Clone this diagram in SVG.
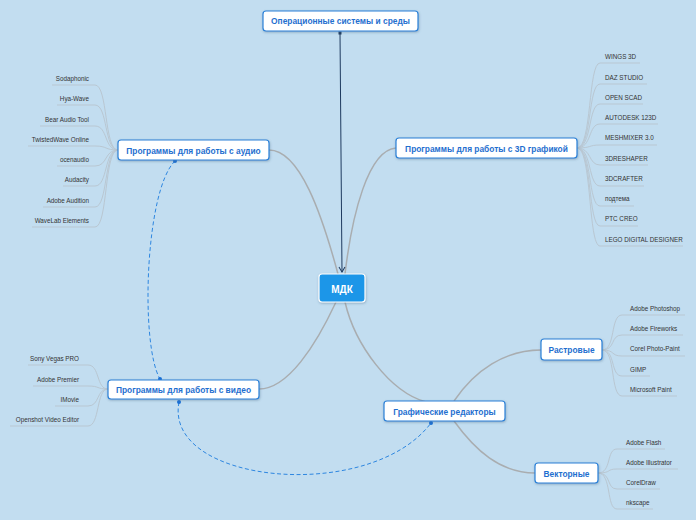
<svg xmlns="http://www.w3.org/2000/svg" width="696" height="520" viewBox="0 0 696 520">
<defs>
<style>
.node rect{fill:#fff;stroke:#2a80d8;stroke-width:1.2}
.node text{font-family:"Liberation Sans",Arial,sans-serif;font-weight:bold;font-size:8.4px;fill:#1f6fcf;text-anchor:middle;dominant-baseline:central}
.leaf text{font-family:"Liberation Sans",Arial,sans-serif;font-size:6.3px;fill:#333}
.leaf path{fill:none;stroke:#b9c7d2;stroke-width:1}
.br{fill:none;stroke:#a9adb0;stroke-width:1.5}
.dash{fill:none;stroke:#2d86e0;stroke-width:1;stroke-dasharray:4 2.5}
.dot{fill:#1a6fd6}
</style>
<filter id="sh" x="-10%" y="-30%" width="120%" height="160%"><feDropShadow dx="0.5" dy="1" stdDeviation="0.8" flood-color="#4a6a8a" flood-opacity="0.45"/></filter>
<marker id="arr" markerWidth="8" markerHeight="8" refX="6" refY="4" orient="auto" markerUnits="userSpaceOnUse"><path d="M1,1 L6,4 L1,7" fill="none" stroke="#1e3a5f" stroke-width="1"/></marker>
</defs>
<rect width="696" height="520" fill="#c2ddf0"/>

<g id="connectors">
<path class="br" d="M269,150 C300,150 322,215 338,274"/>
<path class="br" d="M396,148 C368,150 352,215 345,274"/>
<path class="br" d="M259,389 C288,389 316,345 336,302"/>
<path class="br" d="M345,302 C355,345 390,392 426,402"/>
<path class="br" d="M454,401 C475,370 505,350 541,350"/>
<path class="br" d="M454,421 C475,450 500,473 535,473"/>
<path d="M340,33 L342,272" fill="none" stroke="#1e3a5f" stroke-width="1" marker-end="url(#arr)"/>
<rect x="338.5" y="31.5" width="3" height="3" fill="#1e3a5f"/>
<path class="dash" d="M175,161 C145,190 140,345 160,379"/>
<circle class="dot" cx="175" cy="161" r="2"/>
<circle class="dot" cx="160" cy="379" r="2"/>
<path class="dash" d="M179,402 C163,484 370,504 431,423"/>
<circle class="dot" cx="179" cy="402" r="2"/>
<circle class="dot" cx="431" cy="423" r="2"/>
</g>

<g id="leaves-audio" class="leaf">
<path d="M52,85 H95 C108,85 104,150 118,150"/>
<path d="M57,105 H95 C108,105 104,150 118,150"/>
<path d="M40,126 H95 C108,126 104,150 118,150"/>
<path d="M28,146 H95 C108,146 104,150 118,150"/>
<path d="M57,166 H95 C108,166 104,150 118,150"/>
<path d="M63,186 H95 C108,186 104,150 118,150"/>
<path d="M43,207 H95 C108,207 104,150 118,150"/>
<path d="M32,227 H95 C108,227 104,150 118,150"/>
<g text-anchor="end">
<text x="89" y="81">Sodaphonic</text>
<text x="89" y="101">Hya-Wave</text>
<text x="89" y="122">Bear Audio Tool</text>
<text x="89" y="142">TwistedWave Online</text>
<text x="89" y="162">ocenaudio</text>
<text x="89" y="182">Audacity</text>
<text x="89" y="203">Adobe Audition</text>
<text x="89" y="223">WaveLab Elements</text>
</g>
</g>

<g id="leaves-3d" class="leaf">
<path d="M577,148 C592,148 588,63 600,63 H640"/>
<path d="M577,148 C592,148 588,84 600,84 H647"/>
<path d="M577,148 C592,148 588,104 600,104 H643"/>
<path d="M577,148 C592,148 588,124 600,124 H658"/>
<path d="M577,148 C592,148 588,145 600,145 H657"/>
<path d="M577,148 C592,148 588,165 600,165 H648"/>
<path d="M577,148 C592,148 588,186 600,186 H644"/>
<path d="M577,148 C592,148 588,206 600,206 H634"/>
<path d="M577,148 C592,148 588,226 600,226 H638"/>
<path d="M577,148 C592,148 588,246 600,246 H683"/>
<text x="605" y="59">WINGS 3D</text>
<text x="605" y="80">DAZ STUDIO</text>
<text x="605" y="100">OPEN SCAD</text>
<text x="605" y="120">AUTODESK 123D</text>
<text x="605" y="140">MESHMIXER 3.0</text>
<text x="605" y="161">3DRESHAPER</text>
<text x="605" y="181">3DCRAFTER</text>
<text x="605" y="201">подтема</text>
<text x="605" y="221">PTC CREO</text>
<text x="605" y="242">LEGO DIGITAL DESIGNER</text>
</g>

<g id="leaves-video" class="leaf">
<path d="M28,365 H88 C100,365 96,389 108,389"/>
<path d="M33,386 H88 C100,386 96,389 108,389"/>
<path d="M55,406 H88 C100,406 96,389 108,389"/>
<path d="M10,426 H88 C100,426 96,389 108,389"/>
<g text-anchor="end">
<text x="79" y="361">Sony Vegas PRO</text>
<text x="79" y="382">Adobe Premier</text>
<text x="79" y="402">IMovie</text>
<text x="79" y="422">Openshot Video Editor</text>
</g>
</g>

<g id="leaves-raster" class="leaf">
<path d="M602,350 C616,350 610,315 622,315 H685"/>
<path d="M602,350 C616,350 610,335 622,335 H683"/>
<path d="M602,350 C616,350 610,356 622,356 H685"/>
<path d="M602,350 C616,350 610,376 622,376 H650"/>
<path d="M602,350 C616,350 610,396 622,396 H677"/>
<text x="630" y="311">Adobe Photoshop</text>
<text x="630" y="331">Adobe Fireworks</text>
<text x="630" y="351">Corel Photo-Paint</text>
<text x="630" y="372">GIMP</text>
<text x="630" y="392">Microsoft Paint</text>
</g>

<g id="leaves-vector" class="leaf">
<path d="M598,473 C612,473 606,449 617,449 H665"/>
<path d="M598,473 C612,473 606,469 617,469 H678"/>
<path d="M598,473 C612,473 606,489 617,489 H660"/>
<path d="M598,473 C612,473 606,509 617,509 H653"/>
<text x="626" y="445">Adobe Flash</text>
<text x="626" y="465">Adobe Illustrator</text>
<text x="626" y="485">CorelDraw</text>
<text x="626" y="505">nkscape</text>
</g>

<g id="node-os" class="node"><rect x="263" y="11" width="155" height="20" rx="3" filter="url(#sh)"/><text x="340.5" y="21">Операционные системы и среды</text></g>
<g id="node-audio" class="node"><rect x="118" y="140" width="151" height="20" rx="3" filter="url(#sh)"/><text x="193.5" y="150.5">Программы для работы с аудио</text></g>
<g id="node-3d" class="node"><rect x="396" y="138" width="181" height="20" rx="3" filter="url(#sh)"/><text x="486.5" y="148.5">Программы для работы с 3D графикой</text></g>
<g id="node-video" class="node"><rect x="108" y="380" width="151" height="19" rx="3" filter="url(#sh)"/><text x="183.5" y="390">Программы для работы с видео</text></g>
<g id="node-graphics" class="node"><rect x="384" y="401" width="121" height="20" rx="3" filter="url(#sh)"/><text x="444.5" y="411.5">Графические редакторы</text></g>
<g id="node-raster" class="node"><rect x="541" y="339" width="61" height="21" rx="3" filter="url(#sh)"/><text x="571.5" y="350">Растровые</text></g>
<g id="node-vector" class="node"><rect x="535" y="463" width="63" height="20" rx="3" filter="url(#sh)"/><text x="566.5" y="473.5">Векторные</text></g>
<g id="node-mdk"><rect x="319" y="274" width="46" height="28" rx="3" fill="#1e96e8" stroke="#fff" stroke-width="1.2" filter="url(#sh)"/><text x="342" y="289" font-family="'Liberation Sans',Arial,sans-serif" font-weight="bold" font-size="10px" fill="#fff" text-anchor="middle" dominant-baseline="central">МДК</text></g>
</svg>
